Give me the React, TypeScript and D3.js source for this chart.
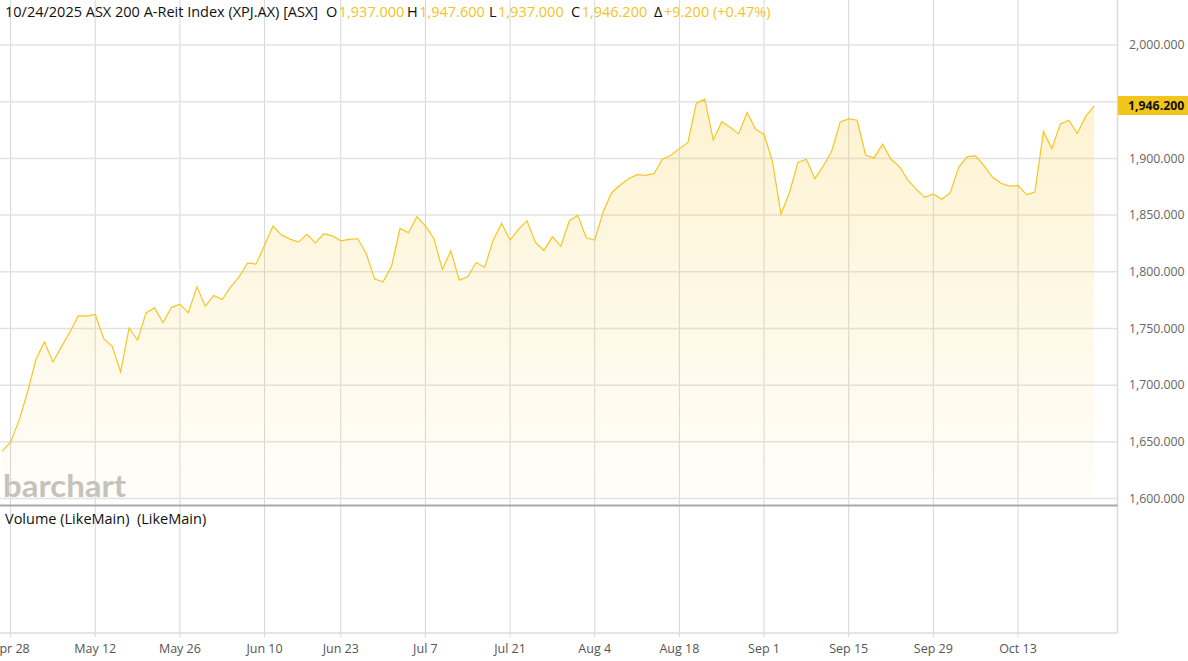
import React from "react";
import * as d3 from "d3";

const closes: number[] = [
  1641.8, 1649.7, 1668.9, 1693.9, 1722.8, 1738.0, 1720.4, 1733.7, 1746.9, 1761.0,
  1760.8, 1762.3, 1741.0, 1734.3, 1711.6, 1750.4, 1739.6, 1763.7, 1768.1, 1755.2,
  1768.4, 1771.4, 1764.0, 1786.7, 1769.6, 1779.0, 1775.5, 1786.7, 1795.5, 1807.9,
  1806.7, 1823.5, 1840.3, 1832.3, 1828.8, 1826.1, 1833.0, 1825.5, 1833.5, 1831.7,
  1827.3, 1828.5, 1829.1, 1816.2, 1793.5, 1791.1, 1804.9, 1838.2, 1834.4, 1848.5,
  1840.5, 1829.4, 1802.0, 1818.5, 1792.6, 1795.5, 1808.2, 1803.8, 1827.9, 1842.7,
  1827.9, 1837.4, 1845.0, 1825.9, 1818.8, 1830.8, 1822.6, 1845.0, 1849.7, 1830.0,
  1827.9, 1852.9, 1869.7, 1876.5, 1882.1, 1885.6, 1885.0, 1886.5, 1899.2, 1902.7,
  1908.6, 1913.9, 1948.7, 1952.2, 1916.3, 1932.4, 1927.5, 1921.6, 1940.4, 1925.7,
  1921.3, 1897.1, 1850.9, 1869.7, 1896.5, 1899.2, 1882.1, 1893.3, 1906.5, 1932.2,
  1934.8, 1933.6, 1903.0, 1900.4, 1912.5, 1899.2, 1892.7, 1880.9, 1872.7, 1865.6,
  1868.6, 1863.9, 1869.7, 1892.1, 1901.5, 1902.1, 1893.3, 1883.3, 1878.0, 1875.6,
  1875.9, 1868.0, 1870.3, 1923.6, 1908.6, 1930.4, 1933.6, 1922.2, 1937.0, 1946.2,
];

const xTickLabels: string[] = [
  "Apr 28", "May 12", "May 26", "Jun 10", "Jun 23", "Jul 7", "Jul 21",
  "Aug 4", "Aug 18", "Sep 1", "Sep 15", "Sep 29", "Oct 13",
];
const xTickIndex: number[] = [1, 11, 21, 31, 40, 50, 60, 70, 80, 90, 100, 110, 120];

const yTicks: number[] = [1600, 1650, 1700, 1750, 1800, 1850, 1900, 1950, 2000];

const headerTitle = "10/24/2025 ASX 200 A-Reit Index (XPJ.AX) [ASX]";
const quoteKeys: string[] = ["O", "H", "L", "C", "Δ"];
const quoteValues: string[] = ["1,937.000", "1,947.600", "1,937.000", "1,946.200", "+9.200 (+0.47%)"];
// horizontal layout of header items (pixels)
const keyX: number[] = [326, 407, 489, 571, 654];

const lastPrice = "1,946.200";

export default function App() {
  const W = 1188;
  const H = 661;
  const plotRight = 1117.5;
  const mainBottom = 505.5;
  const volBottom = 633;

  const x = d3.scaleLinear().domain([1, 120]).range([10.6, 1018]);
  const y = d3.scaleLinear().domain([1600, 2000]).range([498.5, 45]);

  const line = d3
    .line<number>()
    .x((_, i) => x(i))
    .y((d) => y(d));
  const area = d3
    .area<number>()
    .x((_, i) => x(i))
    .y0(y(1600))
    .y1((d) => y(d));

  const fmt = d3.format(",.3f");
  const font = "'Open Sans', 'Noto Sans', sans-serif";
  const lastY = y(closes[closes.length - 1]);
  const gold = "#f3c31f";

  return (
    <svg
      width={W}
      height={H}
      style={{ position: "absolute", left: 0, top: 0, background: "#fff" }}
      fontFamily={font}
    >
      <defs>
        <linearGradient id="fillGrad" x1="0" y1="0" x2="0" y2="1">
          <stop offset="0%" stopColor="#f7c830" stopOpacity={0.22} />
          <stop offset="100%" stopColor="#f7c830" stopOpacity={0.03} />
        </linearGradient>
      </defs>

      {/* vertical gridlines */}
      {xTickIndex.map((ti, k) => (
        <line
          key={"vg" + k}
          x1={x(ti)}
          x2={x(ti)}
          y1={0}
          y2={637}
          stroke="#d6d6d6"
          strokeWidth={1}
        />
      ))}

      {/* horizontal gridlines */}
      {yTicks.map((v) => (
        <line
          key={"hg" + v}
          x1={0}
          x2={plotRight}
          y1={y(v)}
          y2={y(v)}
          stroke="#e2e2e2"
          strokeWidth={1.5}
        />
      ))}

      {/* watermark */}
      <text
        x={3}
        y={497}
        fontFamily="'Lato', 'DejaVu Sans', sans-serif"
        fontWeight={700}
        fontSize={31}
        fill="#c2c2c2"
        textLength={123}
        lengthAdjust="spacingAndGlyphs"
      >
        barchart
      </text>

      {/* area and line */}
      <path d={area(closes) ?? ""} fill="url(#fillGrad)" />
      <path d={line(closes) ?? ""} fill="none" stroke="#f5c623" strokeWidth={1.2} />

      {/* right border */}
      <line x1={plotRight} x2={plotRight} y1={0} y2={volBottom} stroke="#dcdcdc" strokeWidth={1.5} />
      {/* pane separator */}
      <line x1={0} x2={plotRight} y1={mainBottom} y2={mainBottom} stroke="#a9a9a9" strokeWidth={2} />
      {/* bottom border */}
      <line x1={0} x2={plotRight} y1={volBottom} y2={volBottom} stroke="#dcdcdc" strokeWidth={1.5} />

      {/* y axis labels */}
      {yTicks
        .filter((v) => v !== 1950)
        .map((v) => (
          <text
            key={"yl" + v}
            x={1129}
            y={y(v)}
            dy="0.35em"
            fontSize={12.3}
            fill="#666"
          >
            {fmt(v)}
          </text>
        ))}

      {/* last price label */}
      <rect x={plotRight + 0.5} y={lastY - 10} width={W - plotRight} height={19} fill="#f2c51c" />
      <text x={1128} y={lastY} dy="0.35em" fontSize={12.3} fontWeight={700} fill="#111">
        {lastPrice}
      </text>

      {/* x axis labels */}
      {xTickIndex.map((ti, k) => (
        <text
          key={"xl" + k}
          x={x(ti)}
          y={649}
          dy="0.35em"
          textAnchor="middle"
          fontSize={12.5}
          fill="#555"
        >
          {xTickLabels[k]}
        </text>
      ))}

      {/* header */}
      <g fontSize={14.5}>
        <text x={5} y={12} dy="0.35em" fill="#111">
          {headerTitle}
        </text>
        {quoteKeys.map((k, i) => (
          <text key={"hq" + i} x={keyX[i]} y={12} dy="0.35em">
            <tspan fill="#111">{k}</tspan>
            <tspan fill={gold} dx={1.5}>
              {quoteValues[i]}
            </tspan>
          </text>
        ))}
      </g>

      {/* volume pane label */}
      <text x={5} y={519} dy="0.35em" fontSize={14.5} fill="#111" style={{ whiteSpace: "pre" }}>
        Volume (LikeMain)  (LikeMain)
      </text>
    </svg>
  );
}
